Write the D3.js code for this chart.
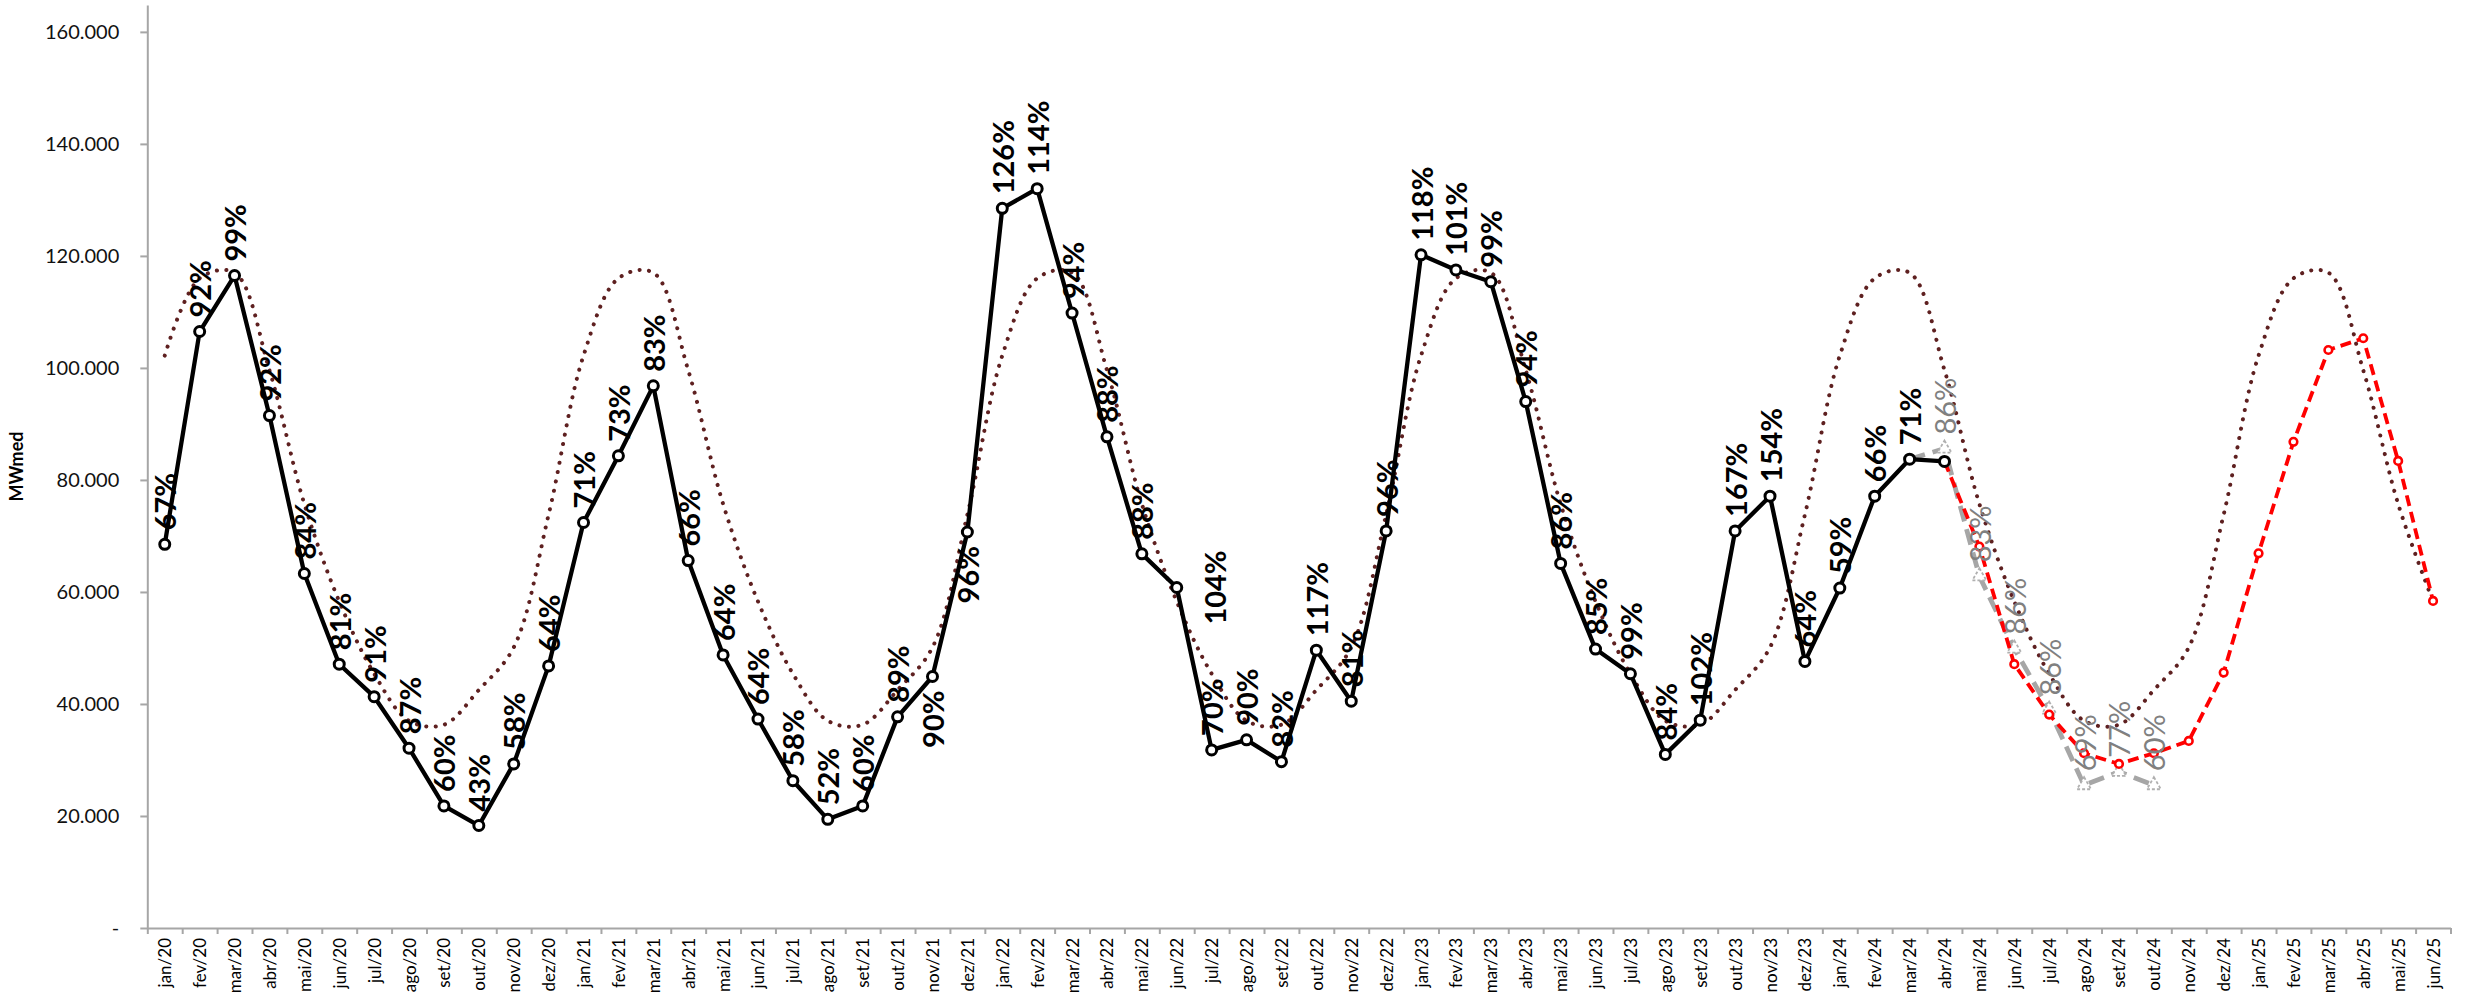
<!DOCTYPE html>
<html>
<head>
<meta charset="utf-8">
<script src="https://cdn.jsdelivr.net/npm/d3@7"></script>
<style>
  html, body { margin: 0; padding: 0; background: #ffffff; }
  svg { display: block; }
</style>
</head>
<body>
<script>
// ---------- DATA ----------
const months = [
  "jan/20","fev/20","mar/20","abr/20","mai/20","jun/20","jul/20","ago/20","set/20","out/20","nov/20","dez/20",
  "jan/21","fev/21","mar/21","abr/21","mai/21","jun/21","jul/21","ago/21","set/21","out/21","nov/21","dez/21",
  "jan/22","fev/22","mar/22","abr/22","mai/22","jun/22","jul/22","ago/22","set/22","out/22","nov/22","dez/22",
  "jan/23","fev/23","mar/23","abr/23","mai/23","jun/23","jul/23","ago/23","set/23","out/23","nov/23","dez/23",
  "jan/24","fev/24","mar/24","abr/24","mai/24","jun/24","jul/24","ago/24","set/24","out/24","nov/24","dez/24",
  "jan/25","fev/25","mar/25","abr/25","mai/25","jun/25"
];

// Verified ENA (MWmed), jan/20 .. abr/24
const enaVerificada = [
  68500, 106500, 116500, 91500, 63300, 47100, 41300, 32100, 21800, 18300, 29300, 46800,
  72400, 84300, 96800, 65600, 48750, 37300, 26300, 19400, 21800, 37700, 44900, 70700,
  128500, 132000, 109800, 87700, 66800, 60800, 31800, 33600, 29700, 49600, 40500, 70900,
  120200, 117500, 115400, 94000, 65100, 49800, 45400, 31000, 37100, 70900, 77100, 47600,
  60700, 77100, 83700, 83300
];
// % of MLT labels for the verified series
const enaPctMLT = [
  67, 92, 99, 92, 84, 81, 91, 87, 60, 43, 58, 64,
  71, 73, 83, 66, 64, 64, 58, 52, 60, 89, 90, 96,
  126, 114, 94, 88, 88, 104, 70, 90, 82, 117, 81, 96,
  118, 101, 99, 94, 86, 85, 99, 84, 102, 167, 154, 64,
  59, 66, 71, null
];

// Long-term average (MLT) per calendar month, jan..dez
const mltMensal = [102200, 116000, 117000, 99600, 75700, 58300, 45400, 37000, 36300, 42500, 50100, 73800];

// Gray dashed series (mar/24 .. out/24) and its labels
const previsaoInicio = "mar/24";
const previsaoValores = [83700, 85600, 62800, 49900, 39000, 25500, 27900, 25500];
const previsaoPct = [null, 86, 83, 86, 86, 69, 77, 60];

// Red dashed scenario (abr/24 .. jun/25)
const cenarioInicio = "abr/24";
const cenarioValores = [83300, 68100, 47100, 38100, 31200, 29300, 31200, 33400, 45600, 66900, 86800, 103200, 105300, 83400, 58400];

const yTickValues = [0, 20000, 40000, 60000, 80000, 100000, 120000, 140000, 160000];
const yAxisTitle = "MWmed";

// label placement exceptions (default: above)
const labelPlacement = { "nov/21": "below", "dez/21": "below", "jun/22": "right" };

// ---------- LAYOUT ----------
const W = 2466, H = 997;
const plotLeft = 147.3, plotRight = 2450.5;
const yBottom = 928, yTop = 5;

const svg = d3.select("body").append("svg")
  .attr("width", W).attr("height", H)
  .attr("viewBox", `0 0 ${W} ${H}`);

svg.append("rect").attr("width", W).attr("height", H).attr("fill", "#ffffff");

const x = d3.scaleBand().domain(months).range([plotLeft, plotRight]).padding(0);
const cx = m => x(m) + x.bandwidth() / 2;
const y = d3.scaleLinear().domain([0, 164800]).range([yBottom, yTop]);

const FONT = "Lato, 'Open Sans', 'DejaVu Sans', sans-serif";
const axisColor = "#A6A6A6";

// ---------- Y AXIS ----------
const fmt = d => d === 0 ? "-" : d3.format(",")(d).replace(/,/g, ".");
const yAxisG = svg.append("g")
  .attr("transform", `translate(${plotLeft},0)`)
  .call(d3.axisLeft(y).tickValues(yTickValues).tickFormat(fmt).tickSize(7).tickSizeOuter(0).tickPadding(21));
yAxisG.select(".domain").attr("stroke", axisColor).attr("stroke-width", 2);
yAxisG.selectAll(".tick line").attr("stroke", axisColor).attr("stroke-width", 2);
yAxisG.selectAll(".tick text")
  .attr("font-family", FONT).attr("font-size", 20).attr("fill", "#111");

svg.append("text")
  .attr("transform", `translate(16,${(y(0) + y(164800)) / 2}) rotate(-90)`)
  .attr("text-anchor", "middle")
  .attr("dominant-baseline", "central")
  .attr("font-family", FONT).attr("font-weight", 700).attr("font-size", 18)
  .attr("fill", "#000")
  .text(yAxisTitle);

// ---------- X AXIS ----------
const xIdx = d3.scaleLinear().domain([0, months.length]).range([plotLeft, plotRight]);
const xAxisG = svg.append("g")
  .attr("transform", `translate(0,${yBottom})`)
  .call(d3.axisBottom(xIdx).tickValues(d3.range(months.length + 1)).tickFormat("").tickSize(6).tickSizeOuter(0));
xAxisG.select(".domain").attr("stroke", axisColor).attr("stroke-width", 2);
xAxisG.selectAll(".tick line").attr("stroke", axisColor).attr("stroke-width", 2);

svg.append("g").selectAll("text").data(months).join("text")
  .attr("transform", d => `translate(${cx(d)},${yBottom + 10}) rotate(-90)`)
  .attr("text-anchor", "end")
  .attr("dominant-baseline", "central")
  .attr("font-family", FONT).attr("font-size", 17).attr("fill", "#000")
  .text(d => d);

// ---------- SERIES ----------
// MLT dotted (smoothed)
const mltSeries = months.map((m, i) => ({ m, v: mltMensal[i % 12] }));
svg.append("path")
  .datum(mltSeries)
  .attr("fill", "none")
  .attr("stroke", "#5E2020")
  .attr("stroke-width", 4)
  .attr("stroke-linecap", "round")
  .attr("stroke-dasharray", "0.1 9.4")
  .attr("d", d3.line().x(d => cx(d.m)).y(d => y(d.v)).curve(d3.curveCatmullRom.alpha(0.5)));

// Gray dashed forecast
const pi = months.indexOf(previsaoInicio);
const previsao = previsaoValores.map((v, k) => ({ m: months[pi + k], v, p: previsaoPct[k] }));
svg.append("path")
  .datum(previsao)
  .attr("fill", "none")
  .attr("stroke", "#A6A6A6")
  .attr("stroke-width", 4.8)
  .attr("stroke-dasharray", "16 8")
  .attr("d", d3.line().x(d => cx(d.m)).y(d => y(d.v)));
svg.append("g").selectAll("path").data(previsao.slice(1)).join("path")
  .attr("transform", d => `translate(${cx(d.m)},${y(d.v)})`)
  .attr("d", d3.symbol(d3.symbolTriangle, 85))
  .attr("fill", "#ffffff")
  .attr("stroke", "#B0B0B0")
  .attr("stroke-width", 1.8)
  .attr("stroke-dasharray", "3 2");

// Red dashed scenario
const ri = months.indexOf(cenarioInicio);
const cenario = cenarioValores.map((v, k) => ({ m: months[ri + k], v }));
svg.append("path")
  .datum(cenario)
  .attr("fill", "none")
  .attr("stroke", "#FF0000")
  .attr("stroke-width", 3.8)
  .attr("stroke-dasharray", "11 6")
  .attr("d", d3.line().x(d => cx(d.m)).y(d => y(d.v)));
svg.append("g").selectAll("circle").data(cenario.slice(1)).join("circle")
  .attr("cx", d => cx(d.m)).attr("cy", d => y(d.v))
  .attr("r", 3.8)
  .attr("fill", "#ffffff")
  .attr("stroke", "#FF0000")
  .attr("stroke-width", 2.6);

// Black verified series
const verificada = enaVerificada.map((v, i) => ({ m: months[i], v, p: enaPctMLT[i] }));
svg.append("path")
  .datum(verificada)
  .attr("fill", "none")
  .attr("stroke", "#000000")
  .attr("stroke-width", 4.3)
  .attr("stroke-linejoin", "round")
  .attr("d", d3.line().x(d => cx(d.m)).y(d => y(d.v)));
svg.append("g").selectAll("circle").data(verificada).join("circle")
  .attr("cx", d => cx(d.m)).attr("cy", d => y(d.v))
  .attr("r", 5)
  .attr("fill", "#ffffff")
  .attr("stroke", "#000000")
  .attr("stroke-width", 3);

// ---------- DATA LABELS ----------
const GAP = 14;
function placeLabel(sel) {
  sel.attr("transform", d => {
    const pos = labelPlacement[d.m] || "above";
    const px = cx(d.m), py = y(d.v);
    if (pos === "below") return `translate(${px},${py + GAP}) rotate(-90)`;
    if (pos === "right") return `translate(${px + 38},${py}) rotate(-90)`;
    return `translate(${px},${py - GAP}) rotate(-90)`;
  })
  .attr("text-anchor", d => {
    const pos = labelPlacement[d.m] || "above";
    return pos === "below" ? "end" : pos === "right" ? "middle" : "start";
  })
  .attr("dominant-baseline", "central");
}

svg.append("g").selectAll("text").data(previsao.filter(d => d.p != null)).join("text")
  .call(placeLabel)
  .attr("font-family", FONT).attr("font-size", 29).attr("font-weight", 400)
  .attr("fill", "#808080")
  .text(d => d.p + "%");

svg.append("g").selectAll("text").data(verificada.filter(d => d.p != null)).join("text")
  .call(placeLabel)
  .attr("font-family", FONT).attr("font-size", 29).attr("font-weight", 700)
  .attr("fill", "#000000")
  .text(d => d.p + "%");
</script>
</body>
</html>
